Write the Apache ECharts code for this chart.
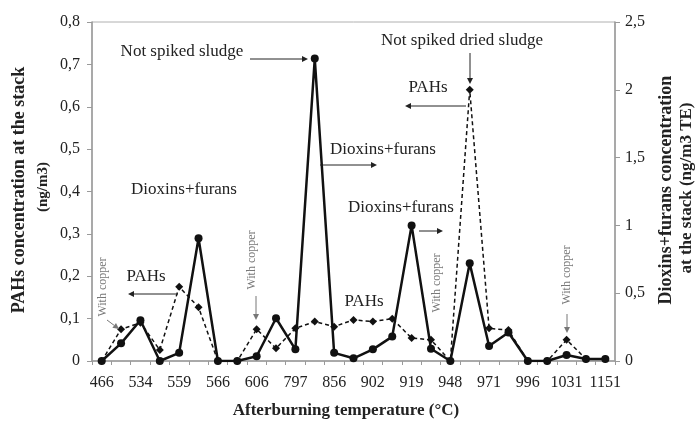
<!DOCTYPE html>
<html>
<head>
<meta charset="utf-8">
<script src="https://cdn.jsdelivr.net/npm/echarts@6/dist/echarts.min.js"></script>
<style>html,body{margin:0;padding:0;background:#fff}#c{width:697px;height:426px}</style>
</head>
<body>
<div id="c"></div>
<script>
// Categories (afterburning temperature, °C); unlabelled intermediate runs are ''
var categories = ['466','','534','','559','','566','','606','','797','','856','','902','','919','','948','','971','','996','','1031','','1151'];
// PAHs concentration at the stack (ng/m3) - left axis, dashed
var pahs = [0, 0.075, 0.09, 0.026, 0.175, 0.127, 0, 0, 0.075, 0.03, 0.077, 0.093, 0.081, 0.097, 0.093, 0.10, 0.054, 0.05, 0, 0.64, 0.077, 0.073, 0, 0, 0.05, 0.005, 0.005];
// Dioxins+furans concentration at the stack (ng/m3 TE) - right axis, solid
var dioxins = [0, 0.13, 0.30, 0, 0.06, 0.905, 0, 0, 0.035, 0.315, 0.086, 2.23, 0.06, 0.02, 0.086, 0.18, 1.0, 0.09, 0, 0.72, 0.11, 0.21, 0, 0, 0.044, 0.015, 0.015];
var leftTicks = [0, 0.1, 0.2, 0.3, 0.4, 0.5, 0.6, 0.7, 0.8];
var rightTicks = [0, 0.5, 1, 1.5, 2, 2.5];

var SERIF = '"Liberation Serif","DejaVu Serif",serif';
var chart = echarts.init(document.getElementById('c'), null, {renderer: 'canvas'});

function fmt(v) {
  return String(+v.toFixed(2)).replace('.', ',');
}
function txt(s, x, y, opt) {
  opt = opt || {};
  return {
    type: 'text', x: x, y: y, rotation: opt.rot || 0, z: 100,
    style: {
      text: s, fill: opt.color || '#222', align: 'center', verticalAlign: 'middle',
      font: (opt.weight || 'normal') + ' ' + (opt.size || 17) + 'px ' + SERIF
    }
  };
}
function arrow(x1, y1, x2, y2, color) {
  color = color || '#222';
  var a = Math.atan2(y2 - y1, x2 - x1), L = 6, W = 3;
  var bx = x2 - L * Math.cos(a), by = y2 - L * Math.sin(a);
  var px = -Math.sin(a) * W, py = Math.cos(a) * W;
  return [
    {type: 'line', z: 100, shape: {x1: x1, y1: y1, x2: bx, y2: by}, style: {stroke: color, lineWidth: 1}},
    {type: 'polygon', z: 100, shape: {points: [[x2, y2], [bx + px, by + py], [bx - px, by - py]]}, style: {fill: color}}
  ];
}

var graphics = [];
graphics.push(txt('Not spiked sludge', 182, 52));
graphics = graphics.concat(arrow(250, 59, 308, 59));
graphics.push(txt('Not spiked dried sludge', 462, 41));
graphics = graphics.concat(arrow(470, 53, 470, 84));
graphics.push(txt('PAHs', 428, 88));
graphics = graphics.concat(arrow(466, 106, 405, 106));
graphics.push(txt('Dioxins+furans', 383, 150));
graphics = graphics.concat(arrow(320, 165, 377, 165));
graphics.push(txt('Dioxins+furans', 401, 208));
graphics = graphics.concat(arrow(419, 231, 443, 231));
graphics.push(txt('Dioxins+furans', 184, 190));
graphics.push(txt('PAHs', 146, 277));
graphics = graphics.concat(arrow(178, 294, 128, 294));
graphics.push(txt('PAHs', 364, 302));
// "With copper" notes
var gray = '#777';
graphics.push(txt('With copper', 103, 287, {rot: Math.PI / 2, size: 12, color: gray}));
graphics = graphics.concat(arrow(107, 320, 119, 329, gray));
graphics.push(txt('With copper', 252, 260, {rot: Math.PI / 2, size: 12, color: gray}));
graphics = graphics.concat(arrow(256, 296, 256, 320, gray));
graphics.push(txt('With copper', 437, 283, {rot: Math.PI / 2, size: 12, color: gray}));
graphics.push(txt('With copper', 567, 275, {rot: Math.PI / 2, size: 12, color: gray}));
graphics = graphics.concat(arrow(567, 314, 567, 333, gray));
// axis titles
graphics.push(txt('PAHs concentration at the stack', 19, 190, {rot: Math.PI / 2, weight: 'bold', size: 18}));
graphics.push(txt('(ng/m3)', 43, 187, {rot: Math.PI / 2, weight: 'bold', size: 15}));
graphics.push(txt('Dioxins+furans concentration', 666, 190, {rot: Math.PI / 2, weight: 'bold', size: 18}));
graphics.push(txt('at the stack (ng/m3 TE)', 687, 188, {rot: Math.PI / 2, weight: 'bold', size: 17}));
graphics.push(txt('Afterburning temperature (°C)', 346, 411, {weight: 'bold', size: 17}));

var axisLineStyle = {color: '#9a9a9a', width: 1.5};
chart.setOption({
  animation: false,
  backgroundColor: '#fff',
  grid: {left: 92, right: 82, top: 22, bottom: 65, show: true, borderColor: '#b0b0b0', borderWidth: 1},
  xAxis: {
    type: 'category', data: categories, boundaryGap: true,
    axisLine: {lineStyle: axisLineStyle},
    axisTick: {show: true, interval: 0, length: 4, lineStyle: {color: '#9a9a9a'}},
    axisLabel: {interval: 0, margin: 14, color: '#222', fontFamily: SERIF, fontSize: 16, hideOverlap: false},
    splitLine: {show: false}
  },
  yAxis: [{
    type: 'value', min: 0, max: 0.8, interval: 0.1, position: 'left',
    axisLine: {show: true, lineStyle: axisLineStyle},
    axisTick: {show: true, length: 5, lineStyle: {color: '#9a9a9a'}},
    axisLabel: {margin: 12, color: '#222', fontFamily: SERIF, fontSize: 16, formatter: fmt},
    splitLine: {show: false}
  }, {
    type: 'value', min: 0, max: 2.5, interval: 0.5, position: 'right',
    axisLine: {show: true, lineStyle: axisLineStyle},
    axisTick: {show: true, length: 5, lineStyle: {color: '#9a9a9a'}},
    axisLabel: {margin: 10, color: '#222', fontFamily: SERIF, fontSize: 16, formatter: fmt},
    splitLine: {show: false}
  }],
  series: [{
    name: 'PAHs', type: 'line', yAxisIndex: 0, data: pahs,
    symbol: 'diamond', symbolSize: 8, z: 3,
    lineStyle: {color: '#111', width: 1.5, type: [4, 3]},
    itemStyle: {color: '#111'}
  }, {
    name: 'Dioxins+furans', type: 'line', yAxisIndex: 1, data: dioxins,
    symbol: 'circle', symbolSize: 8, z: 4,
    lineStyle: {color: '#111', width: 2.5},
    itemStyle: {color: '#111'}
  }],
  graphic: graphics
});
</script>
</body>
</html>
